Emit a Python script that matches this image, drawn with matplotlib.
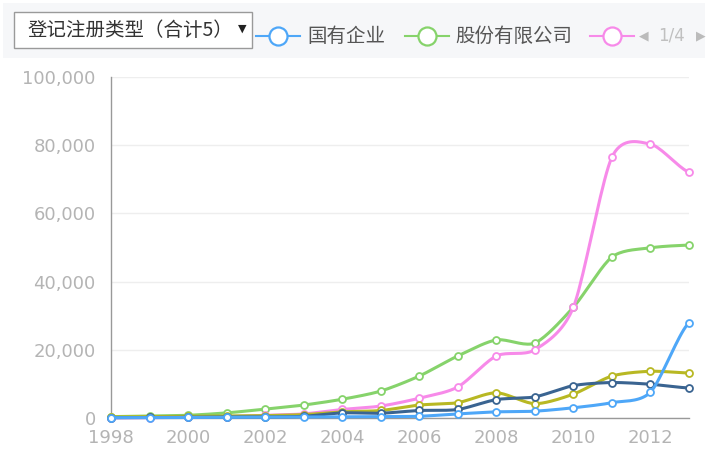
import numpy as np
import matplotlib
matplotlib.use('Agg')
import matplotlib.pyplot as plt
from matplotlib.patches import Rectangle
from matplotlib.lines import Line2D
from matplotlib.ticker import FuncFormatter

plt.rcParams['font.family'] = ['Noto Sans CJK SC', 'DejaVu Sans']

years = list(range(1998, 2014))

state_owned = [100, 100, 150, 200, 250, 300, 350, 400, 500, 1200, 1800, 2000, 3000, 4500, 7600, 27900]
joint_stock = [400, 600, 800, 1500, 2600, 3800, 5500, 7900, 12300, 18200, 22900, 22000, 32500, 47200, 49900, 50700]
pink_series = [50, 100, 200, 400, 800, 1200, 2500, 3500, 5800, 9100, 18200, 20000, 32500, 76500, 80300, 72100]
olive_series = [300, 400, 500, 600, 700, 1000, 1800, 2200, 3800, 4500, 7400, 4200, 7000, 12300, 13700, 13200]
navy_series = [100, 150, 200, 300, 300, 500, 1500, 1400, 2200, 2500, 5400, 6200, 9500, 10400, 9900, 8800]

legend_names = ['国有企业', '股份有限公司']
dropdown_label = '登记注册类型（合计5）'
page_label = '1/4'

y_ticks = [0, 20000, 40000, 60000, 80000, 100000]
x_ticks = [1998, 2000, 2002, 2004, 2006, 2008, 2010, 2012]


def smooth(xs, ys, n=20):
    # catmull-rom curve through the points, just for drawing
    xs = np.asarray(xs, float)
    ys = np.asarray(ys, float)
    px = np.concatenate([[2 * xs[0] - xs[1]], xs, [2 * xs[-1] - xs[-2]]])
    py = np.concatenate([[ys[0]], ys, [ys[-1]]])
    t = np.linspace(0, 1, n)
    outx, outy = [], []
    for i in range(1, len(px) - 2):
        for arr, out in ((px, outx), (py, outy)):
            p0, p1, p2, p3 = arr[i - 1], arr[i], arr[i + 1], arr[i + 2]
            m1 = (p2 - p0) / 2 * 0.8
            m2 = (p3 - p1) / 2 * 0.8
            h00 = 2 * t**3 - 3 * t**2 + 1
            h10 = t**3 - 2 * t**2 + t
            h01 = -2 * t**3 + 3 * t**2
            h11 = t**3 - t**2
            out.extend(h00 * p1 + h10 * m1 + h01 * p2 + h11 * m2)
    return outx, outy


fig = plt.figure(figsize=(7.18, 4.55), dpi=100)
fig.patches.append(Rectangle((3 / 718, 1 - 58 / 455), 702 / 718, 55 / 455,
                             transform=fig.transFigure, facecolor='#f6f7f9',
                             edgecolor='none', zorder=0))

ax = fig.add_axes([111 / 718, 1 - 418 / 455, 578 / 718, 341 / 455])

series = [
    (joint_stock, '#86d36b'),
    (pink_series, '#f78ae9'),
    (olive_series, '#b8b823'),
    (navy_series, '#3a6491'),
    (state_owned, '#4ea7f8'),
]
for z, (vals, color) in enumerate(series):
    sx, sy = smooth(years, vals)
    ax.plot(sx, sy, color=color, lw=2.2, zorder=3 + z, clip_on=False)
    ax.plot(years, vals, 'o', ms=5, mfc='white', mec=color, mew=1.3,
            zorder=3 + z, clip_on=False)

ax.set_xlim(1998, 2013)
ax.set_ylim(0, 100000)
ax.set_xticks(x_ticks)
ax.set_yticks(y_ticks)
ax.yaxis.set_major_formatter(FuncFormatter(lambda v, p: f'{int(v):,}'))
ax.tick_params(axis='both', length=0, labelsize=13, labelcolor='#b4b4b4',
               labelfontfamily='DejaVu Sans')
ax.tick_params(axis='y', pad=11)
ax.tick_params(axis='x', pad=8)
ax.grid(axis='y', color='#eeeeee', lw=1)
ax.set_axisbelow(True)
for side in ['top', 'right']:
    ax.spines[side].set_visible(False)
ax.spines['left'].set_color('#999999')
ax.spines['bottom'].set_color('#999999')
ax.spines['left'].set_linewidth(1)
ax.spines['bottom'].set_linewidth(1)

# dropdown box
fig.patches.append(Rectangle((14 / 718, 1 - 48 / 455), 238 / 718, 36 / 455,
                             transform=fig.transFigure, facecolor='white',
                             edgecolor='#9a9a9a', lw=1, zorder=2))
fig.text(28 / 718, 1 - 31 / 455, dropdown_label, fontsize=14, color='#333333',
         va='center', ha='left')
fig.text(242 / 718, 1 - 29 / 455, '▼', fontsize=8, color='#222222',
         va='center', ha='center', family='DejaVu Sans')

# legend entries
def legend_icon(xc, color):
    y = 1 - 36 / 455
    fig.add_artist(Line2D([(xc - 22) / 718, (xc + 22) / 718], [y, y],
                          transform=fig.transFigure, color=color, lw=1.5))
    fig.add_artist(Line2D([xc / 718], [y], transform=fig.transFigure,
                          marker='o', ms=13, mfc='white', mec=color, mew=1.6))

legend_icon(278, '#4ea7f8')
fig.text(307 / 718, 1 - 36 / 455, legend_names[0], fontsize=14, color='#555555', va='center')
legend_icon(427, '#86d36b')
fig.text(455 / 718, 1 - 36 / 455, legend_names[1], fontsize=14, color='#555555', va='center')
legend_icon(612, '#f78ae9')
fig.text(644 / 718, 1 - 36 / 455, '◀', fontsize=9, color='#bbbbbb', va='center',
         ha='center', family='DejaVu Sans')
fig.text(671 / 718, 1 - 36 / 455, page_label, fontsize=12, color='#c0c0c0', va='center',
         ha='center', family='DejaVu Sans')
fig.text(701 / 718, 1 - 36 / 455, '▶', fontsize=9, color='#bbbbbb', va='center',
         ha='center', family='DejaVu Sans')

fig.savefig('out.png', dpi=100)
